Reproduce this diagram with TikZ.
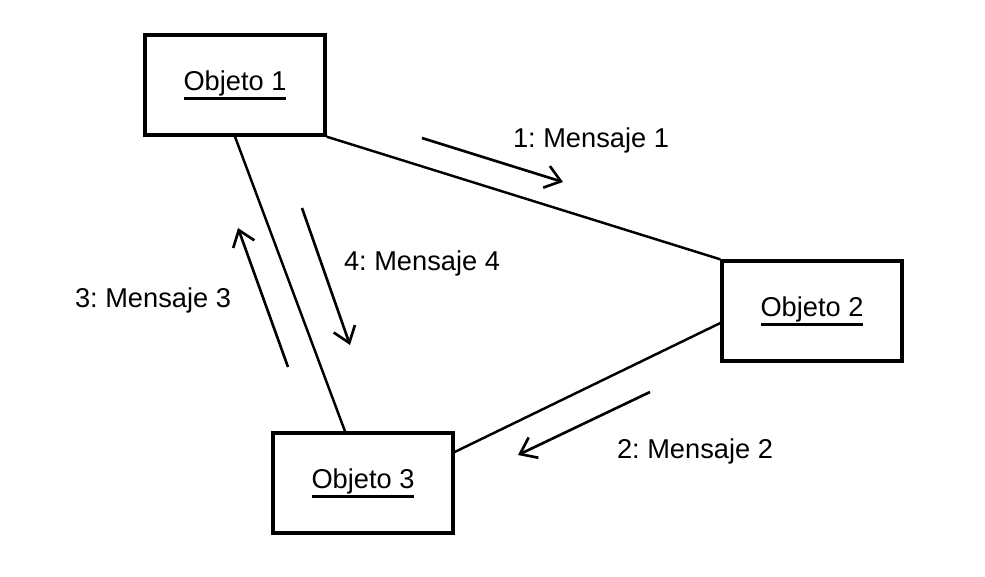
\documentclass[tikz,border=0pt]{standalone}
\usepackage{fontspec}
\setmainfont{Liberation Sans}
\usetikzlibrary{arrows.meta}
\usetikzlibrary{positioning}
\frenchspacing

\newcommand{\subrayado}[1]{\setbox0\hbox{#1}\rlap{\rule[-5.5pt]{\wd0}{1.3pt}}\box0}

\begin{document}
\begin{tikzpicture}[%
        x=0.02cm, y=-0.02cm,
        every node/.style={font=\fontsize{15.5}{18}\selectfont},
        objeto/.style={draw, line width=1.9pt, minimum width=3.6cm, minimum height=2cm, inner sep=0pt},
        mensaje/.style={anchor=base, inner sep=0pt},
        enlace/.style={line width=1.4pt},
        flecha/.style={line width=1.5pt, -{Straight Barb[length=3mm,width=4.5mm]}}
      ]
      \useasboundingbox (0,0) rectangle (985,576);
      \node [objeto] (o1) at (235,85) {\subrayado{Objeto 1}};
      \node [objeto] (o2) at (812,311) {\subrayado{Objeto 2}};
      \node [objeto] (o3) at (363,483) {\subrayado{Objeto 3}};
      % enlaces entre objetos
      \draw [enlace] (o1.south east) -- (o2.north west);
      \draw [enlace] (o1.south) -- ([xshift=-3.6mm]o3.north);
      \draw [enlace] ([yshift=-2.4mm]o2.west) -- ([yshift=6.2mm]o3.east);
      % extremos de las flechas
      \coordinate (m1a) at (422,138);
      \coordinate (m1b) at (563,182);
      \coordinate (m2a) at (650,392);
      \coordinate (m2b) at (518,455);
      \coordinate (m3a) at (288,367);
      \coordinate (m3b) at (238,228);
      \coordinate (m4a) at (302,208);
      \coordinate (m4b) at (350,345);
      \draw [flecha] (m1a) -- (m1b);
      \draw [flecha] (m2a) -- (m2b);
      \draw [flecha] (m3a) -- (m3b);
      \draw [flecha] (m4a) -- (m4b);
      \node [mensaje] (t1) at (591,147) {1: Mensaje 1};
      \node [mensaje] (t2) at (695,458) {2: Mensaje 2};
      \node [mensaje] (t3) at (153,307) {3: Mensaje 3};
      \node [mensaje] (t4) at (422,270) {4: Mensaje 4};
    \end{tikzpicture}
\end{document}
